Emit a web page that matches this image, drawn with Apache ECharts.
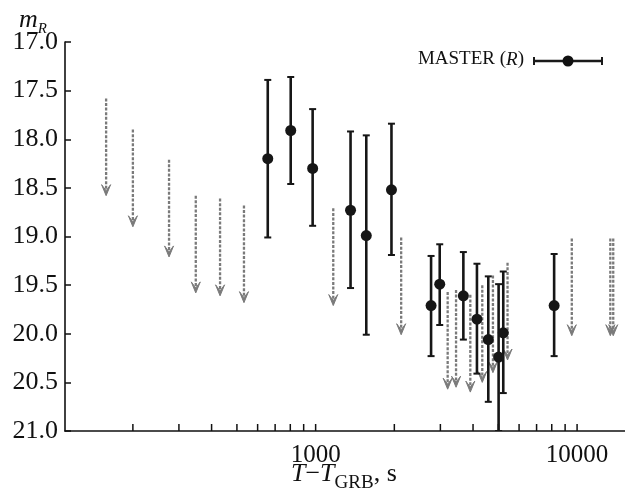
<!DOCTYPE html>
<html>
<head>
<meta charset="utf-8">
<script src="https://cdn.jsdelivr.net/npm/echarts@6/dist/echarts.min.js"></script>
<style>
html,body{margin:0;padding:0;background:#fff;}
#chart{width:625px;height:495px;}
</style>
</head>
<body>
<div id="chart"></div>
<script>
// Detections (MASTER, R band): time since GRB (s), magnitude, error-bar top, error-bar bottom
const detT      = [656, 803, 974, 1360, 1562, 1950, 2764, 2983, 3673, 4140, 4575, 5010, 5220, 8170];
const detMag    = [18.20, 17.91, 18.30, 18.73, 18.99, 18.52, 19.71, 19.49, 19.61, 19.85, 20.06, 20.24, 19.99, 19.71];
const detErrTop = [17.39, 17.36, 17.69, 17.92, 17.96, 17.84, 19.20, 19.08, 19.16, 19.28, 19.41, 19.49, 19.36, 19.18];
const detErrBot = [19.01, 18.46, 18.89, 19.53, 20.01, 19.19, 20.23, 19.91, 20.06, 20.41, 20.70, 21.00, 20.61, 20.23];

// Upper limits: time (s), limiting magnitude
const limT   = [158, 200, 275, 348, 431, 532, 1168, 2124, 3199, 3444, 3905, 4339, 4766, 5420, 9545, 13400, 13750];
const limMag = [17.58, 17.90, 18.21, 18.58, 18.61, 18.68, 18.71, 19.01, 19.57, 19.55, 19.60, 19.50, 19.40, 19.27, 19.02, 19.02, 19.02];

// Axis ticks
const xTickVals  = [200, 300, 400, 500, 600, 700, 800, 900, 1000, 2000, 3000, 4000, 5000, 6000, 7000, 8000, 9000, 10000];
const xLabelVals = [1000, 10000];
const yMin = 17.0, yMax = 21.0, yStep = 0.5;
const xMin = 110, xMax = 15250;

const ARROW_LEN = 1.0; // magnitude length of the upper-limit arrows
const FONT = '"Liberation Serif", "Times New Roman", serif';

const chart = echarts.init(document.getElementById('chart'));

const detData = detT.map((t, i) => [t, detMag[i], detErrTop[i], detErrBot[i]]);
const limData = limT.map((t, i) => [t, limMag[i]]);
const tickData = xTickVals.map(v => [v, yMax]);

const option = {
  animation: false,
  backgroundColor: '#fff',
  grid: { left: 65, right: 0, top: 42, bottom: 64, containLabel: false },
  xAxis: {
    type: 'log',
    logBase: 10,
    min: xMin,
    max: xMax,
    axisLine: { show: true, onZero: false, lineStyle: { color: '#111', width: 1.6 } },
    axisTick: { show: false },
    minorTick: { show: false },
    splitLine: { show: false },
    axisLabel: {
      showMinLabel: false,
      showMaxLabel: false,
      margin: 12,
      fontSize: 25,
      fontFamily: FONT,
      color: '#111',
      formatter: function (v) {
        for (const lv of xLabelVals) {
          if (Math.abs(v - lv) / lv < 1e-6) return String(lv);
        }
        return '';
      }
    }
  },
  yAxis: {
    type: 'value',
    inverse: true,
    min: yMin,
    max: yMax,
    interval: yStep,
    axisLine: { show: true, onZero: false, lineStyle: { color: '#111', width: 1.6 } },
    axisTick: { show: true, inside: true, length: 6, lineStyle: { color: '#111', width: 1.5 } },
    splitLine: { show: false },
    axisLabel: {
      margin: 7,
      fontSize: 26,
      fontFamily: FONT,
      color: '#111',
      formatter: v => v.toFixed(1)
    }
  },
  graphic: [
    {
      type: 'text', left: 19, top: 7,
      style: {
        text: '{m|m}{r|R}',
        rich: {
          m: { fontFamily: FONT, fontStyle: 'italic', fontSize: 26, fill: '#111', verticalAlign: 'bottom' },
          r: { fontFamily: FONT, fontStyle: 'italic', fontSize: 15, fill: '#111', padding: [0, 0, -4, 0], verticalAlign: 'bottom' }
        }
      }
    },
    {
      type: 'text', left: 291, top: 461,
      style: {
        text: '{i|T}{n|\u2212}{i|T}{s|GRB}{n|, s}',
        rich: {
          i: { fontFamily: FONT, fontStyle: 'italic', fontSize: 26, fill: '#111', verticalAlign: 'bottom' },
          n: { fontFamily: FONT, fontSize: 26, fill: '#111', verticalAlign: 'bottom' },
          s: { fontFamily: FONT, fontSize: 19, fill: '#111', padding: [0, 0, -6, 0], verticalAlign: 'bottom' }
        }
      }
    },
    {
      type: 'text', right: 101, top: 50,
      style: {
        text: '{n|MASTER (}{i|R}{n|)}',
        rich: {
          n: { fontFamily: FONT, fontSize: 19, fill: '#111' },
          i: { fontFamily: FONT, fontStyle: 'italic', fontSize: 19, fill: '#111' }
        }
      }
    },
    { type: 'line', shape: { x1: 534, y1: 61, x2: 602, y2: 61 }, style: { stroke: '#1a1a1a', lineWidth: 2.5 } },
    { type: 'line', shape: { x1: 534, y1: 57, x2: 534, y2: 65 }, style: { stroke: '#1a1a1a', lineWidth: 2 } },
    { type: 'line', shape: { x1: 602, y1: 57, x2: 602, y2: 65 }, style: { stroke: '#1a1a1a', lineWidth: 2 } },
    { type: 'circle', shape: { cx: 568, cy: 61, r: 5.5 }, style: { fill: '#111' } }
  ],
  series: [
    {
      name: 'ticks',
      type: 'custom',
      clip: false,
      silent: true,
      data: tickData,
      renderItem: function (params, api) {
        const p = api.coord([api.value(0), api.value(1)]);
        return {
          type: 'line',
          shape: { x1: p[0], y1: p[1], x2: p[0], y2: p[1] - 7 },
          style: { stroke: '#111', lineWidth: 1.5 }
        };
      }
    },
    {
      name: 'limits',
      type: 'custom',
      clip: true,
      silent: true,
      data: limData,
      renderItem: function (params, api) {
        const t = api.value(0), m = api.value(1);
        const top = api.coord([t, m]);
        const tip = api.coord([t, m + ARROW_LEN]);
        const x = top[0];
        const col = '#7a7a7a';
        return {
          type: 'group',
          children: [
            {
              type: 'line',
              shape: { x1: x, y1: top[1], x2: x, y2: tip[1] - 6 },
              style: { stroke: col, lineWidth: 2.3, lineDash: [3, 1.6] }
            },
            {
              type: 'polygon',
              shape: { points: [[x - 4.5, tip[1] - 11], [x, tip[1] - 5], [x + 4.5, tip[1] - 11], [x, tip[1]]] },
              style: { fill: col, stroke: col, lineWidth: 1 }
            }
          ]
        };
      }
    },
    {
      name: 'MASTER (R)',
      type: 'custom',
      clip: true,
      silent: true,
      data: detData,
      renderItem: function (params, api) {
        const t = api.value(0);
        const c = api.coord([t, api.value(1)]);
        const a = api.coord([t, api.value(2)]);
        const b = api.coord([t, api.value(3)]);
        const col = '#161616';
        return {
          type: 'group',
          children: [
            { type: 'line', shape: { x1: c[0], y1: a[1], x2: c[0], y2: b[1] }, style: { stroke: col, lineWidth: 2.6 } },
            { type: 'line', shape: { x1: c[0] - 3.5, y1: a[1], x2: c[0] + 3.5, y2: a[1] }, style: { stroke: col, lineWidth: 2 } },
            { type: 'line', shape: { x1: c[0] - 3.5, y1: b[1], x2: c[0] + 3.5, y2: b[1] }, style: { stroke: col, lineWidth: 2 } },
            { type: 'circle', shape: { cx: c[0], cy: c[1], r: 5.5 }, style: { fill: col } }
          ]
        };
      }
    }
  ]
};

chart.setOption(option);
</script>
</body>
</html>
